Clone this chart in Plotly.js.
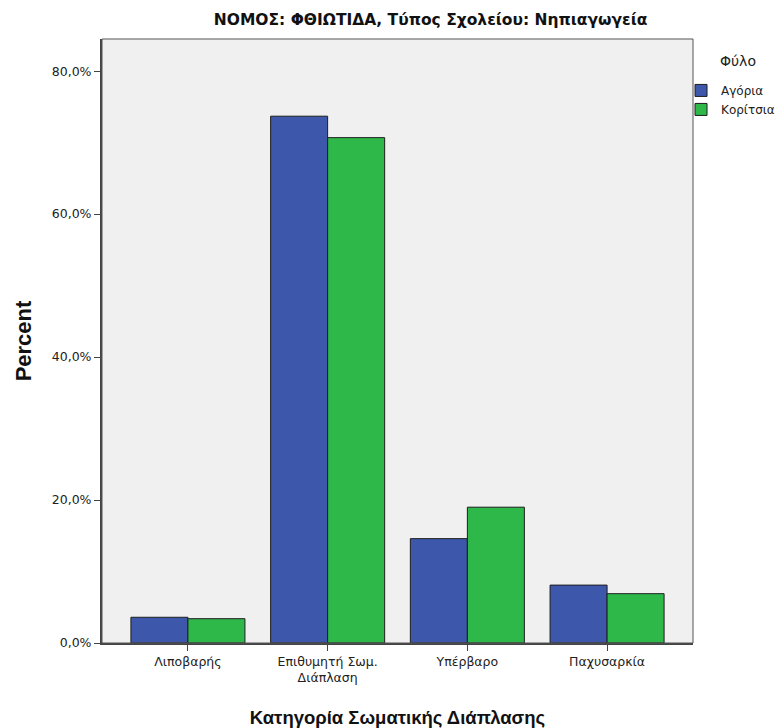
<!DOCTYPE html>
<html>
<head>
<meta charset="utf-8">
<script src="https://cdn.plot.ly/plotly-3.0.1.min.js"></script>
<style>html,body{margin:0;padding:0;background:#fff;}#chart{width:776px;height:728px;}</style>
</head>
<body>
<div id="chart"></div>
<script>
const categories = ["Λιποβαρής", "Επιθυμητή Σωμ.<br>Διάπλαση", "Υπέρβαρο", "Παχυσαρκία"];
const boys = [3.6, 73.7, 14.6, 8.1];
const girls = [3.4, 70.7, 19.0, 6.9];
const seriesNames = ["Αγόρια", "Κορίτσια"];
const legendTitle = "Φύλο";
const yTicks = [0, 20, 40, 60, 80];
const yTickText = yTicks.map(v => v.toFixed(1).replace(".", ",") + "%");

const SANS = "DejaVu Sans, Verdana, sans-serif";
const ARIAL = "Liberation Sans, Arial, sans-serif";
const traces = [
  {type: "bar", name: seriesNames[0], x: categories, y: boys,
   marker: {color: "#3D57AA", line: {color: "#1e1e1e", width: 1}}, hoverinfo: "y"},
  {type: "bar", name: seriesNames[1], x: categories, y: girls,
   marker: {color: "#2EB84A", line: {color: "#1e1e1e", width: 1}}, hoverinfo: "y"}
];

const layout = {
  width: 776, height: 728,
  margin: {l: 102, r: 83, t: 39, b: 85, autoexpand: false},
  paper_bgcolor: "#ffffff",
  plot_bgcolor: "#F0F0F0",
  barmode: "group",
  bargap: 0.184,
  bargroupgap: 0,
  font: {family: SANS, color: "#222", size: 12},
  title: {text: "<b>ΝΟΜΟΣ: ΦΘΙΩΤΙΔΑ, Τύπος Σχολείου: Νηπιαγωγεία</b>",
          font: {family: SANS, size: 15.5, color: "#111"},
          x: 0.556, xanchor: "center", xref: "paper", y: 0.973, yanchor: "middle"},
  xaxis: {
    type: "category",
    range: [-0.615, 3.615],
    showgrid: false, zeroline: false,
    showline: true, linecolor: "#444", linewidth: 2,
    ticks: "outside", ticklen: 6, tickcolor: "#444", tickwidth: 1,
    tickfont: {family: SANS, size: 12.5, color: "#222"},
    title: {text: "<b>Κατηγορία Σωματικής Διάπλασης</b>", font: {family: ARIAL, size: 18.5, color: "#111"}, standoff: 27}
  },
  yaxis: {
    range: [0, 84.5],
    tickvals: yTicks,
    ticktext: yTickText,
    showgrid: false, zeroline: false,
    showline: true, linecolor: "#444", linewidth: 2,
    ticks: "outside", ticklen: 6, tickcolor: "#444", tickwidth: 1,
    tickfont: {family: SANS, size: 12.5, color: "#222"},
    title: {text: "<b>Percent</b>", font: {family: ARIAL, size: 22, color: "#111"}, standoff: 14}
  },
  shapes: [
    {type: "rect", xref: "paper", yref: "paper", x0: 0, x1: 1, y0: 0, y1: 1,
     line: {color: "#555", width: 1}, fillcolor: "rgba(0,0,0,0)", layer: "above"}
  ],
  annotations: [
    {text: legendTitle, xref: "paper", yref: "paper", x: 1.0755, y: 0.964,
     xanchor: "center", yanchor: "middle", showarrow: false,
     font: {family: SANS, size: 14, color: "#222"}}
  ],
  legend: {
    xref: "container", yref: "container",
    x: 0.8776, xanchor: "left", y: 0.8957, yanchor: "top",
    bgcolor: "rgba(0,0,0,0)",
    font: {family: SANS, size: 12, color: "#222"},
    itemwidth: 30, tracegroupgap: 0
  },
  showlegend: true
};

Plotly.newPlot("chart", traces, layout, {displayModeBar: false, staticPlot: true});
</script>
</body>
</html>
